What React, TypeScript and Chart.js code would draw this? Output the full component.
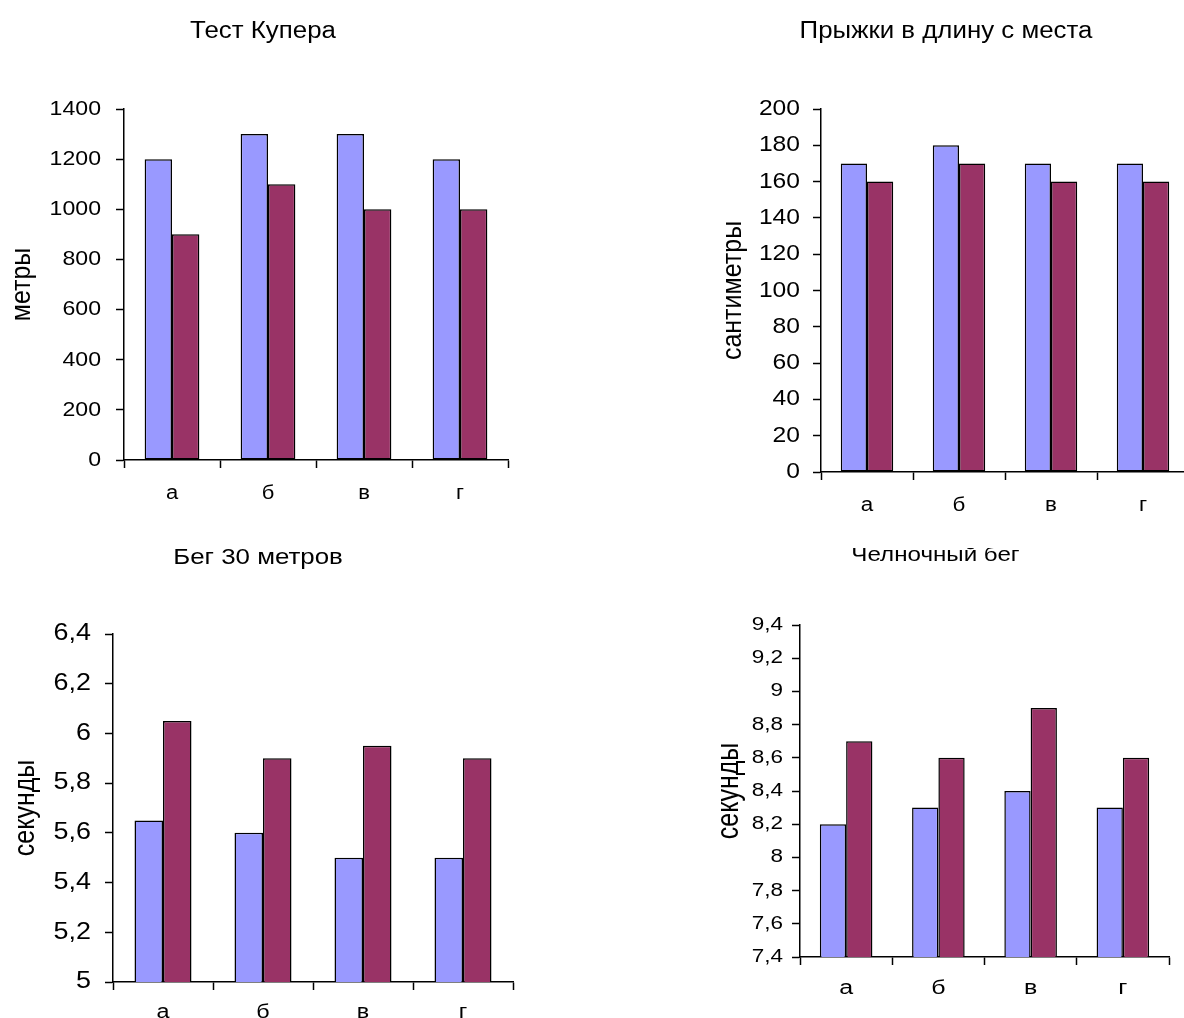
import { useEffect, useRef } from "react";
import { Chart, registerables } from "chart.js";

Chart.register(...registerables);
Chart.defaults.font.family = '"Liberation Sans", Arial, sans-serif';
Chart.defaults.color = "#000";

// Test groups
const groups = ["а", "б", "в", "г"];

// Cooper test, metres
const cooperFirst = [1200, 1300, 1300, 1200];
const cooperSecond = [900, 1100, 1000, 1000];

// Standing long jump, centimetres
const jumpFirst = [170, 180, 170, 170];
const jumpSecond = [160, 170, 160, 160];

// 30 m sprint, seconds
const sprintFirst = [5.65, 5.6, 5.5, 5.5];
const sprintSecond = [6.05, 5.9, 5.95, 5.9];

// Shuttle run, seconds
const shuttleFirst = [8.2, 8.3, 8.4, 8.3];
const shuttleSecond = [8.7, 8.6, 8.9, 8.6];

const headings = ["Тест Купера", "Прыжки в длину с места", "Бег 30 метров", "Челночный бег"];
const unitTitles = ["метры", "сантиметры", "секунды", "секунды"];

// Value axis ranges: [min, max, step]
const cooperRange = [0, 1400, 200];
const jumpRange = [0, 200, 20];
const sprintRange = [5, 6.4, 0.2];
const shuttleRange = [7.4, 9.4, 0.2];

const FIRST_COLOR = "#9999FF";
const SECOND_COLOR = "#993366";
const LINE_W = 1.5;

const PAGE_W = 1184;
const PAGE_H = 1018;

type Panel = {
  heading: string;
  unit: string;
  first: number[];
  second: number[];
  range: number[];
  box: { x: number; y: number; w: number; h: number };
  area: { l: number; t: number; r: number; b: number };
  head: { cx: number; base: number; size: number; stretch: number };
  unitX: number;
  textStretch: number;
  yFont: number;
  yPad: number;
  xFont: number;
  xPad: number;
};

const panels: Panel[] = [
  {
    heading: headings[0],
    unit: unitTitles[0],
    first: cooperFirst,
    second: cooperSecond,
    range: cooperRange,
    box: { x: 0, y: 0, w: 560, h: 530 },
    area: { l: 124, t: 109, r: 508, b: 460 },
    head: { cx: 263, base: 38, size: 23.5, stretch: 1.1 },
    unitX: 22,
    textStretch: 1.1,
    yFont: 21,
    yPad: 15,
    xFont: 20,
    xPad: 13,
  },
  {
    heading: headings[1],
    unit: unitTitles[1],
    first: jumpFirst,
    second: jumpSecond,
    range: jumpRange,
    box: { x: 700, y: 0, w: 500, h: 530 },
    area: { l: 821, t: 109, r: 1189, b: 472 },
    head: { cx: 946, base: 38, size: 23.5, stretch: 1.1 },
    unitX: 733,
    textStretch: 1.12,
    yFont: 22,
    yPad: 13,
    xFont: 20,
    xPad: 13,
  },
  {
    heading: headings[2],
    unit: unitTitles[2],
    first: sprintFirst,
    second: sprintSecond,
    range: sprintRange,
    box: { x: 0, y: 530, w: 540, h: 488 },
    area: { l: 113, t: 634, r: 513, b: 982 },
    head: { cx: 258, base: 564, size: 22.5, stretch: 1.15 },
    unitX: 26,
    textStretch: 1.17,
    yFont: 23,
    yPad: 14,
    xFont: 20,
    xPad: 10,
  },
  {
    heading: headings[3],
    unit: unitTitles[3],
    first: shuttleFirst,
    second: shuttleSecond,
    range: shuttleRange,
    box: { x: 700, y: 548, w: 490, h: 470 },
    area: { l: 800, t: 625, r: 1169, b: 957 },
    head: { cx: 935.5, base: 561, size: 21, stretch: 1.15 },
    unitX: 729,
    textStretch: 1.25,
    yFont: 18,
    yPad: 9,
    xFont: 20,
    xPad: 11,
  },
];

const formatTick = (v: number | string) => {
  const r = Math.round(Number(v) * 10) / 10;
  return String(r).replace(".", ",");
};

// Widen glyphs horizontally (in device space) around each text anchor
function widenText(ctx: CanvasRenderingContext2D, factor: { value: number }) {
  const original = ctx.fillText.bind(ctx);
  (ctx as any).fillText = (text: string, x: number, y: number, maxWidth?: number) => {
    const m = ctx.getTransform();
    const p = m.transformPoint(new DOMPoint(x, y));
    ctx.save();
    ctx.setTransform(
      new DOMMatrix().translate(p.x, p.y).scale(factor.value, 1).translate(-p.x, -p.y).multiply(m)
    );
    if (maxWidth === undefined) original(text, x, y);
    else original(text, x, y, maxWidth);
    ctx.restore();
  };
}

// Draws the panel heading at a fixed spot on the canvas
const headingPlugin = {
  id: "heading",
  afterDraw(chart: any, _args: any, opts: any) {
    const ctx = chart.ctx as CanvasRenderingContext2D;
    const prev = opts.factor.value;
    opts.factor.value = opts.stretch;
    ctx.save();
    ctx.font = `${opts.size}px "Liberation Sans", Arial, sans-serif`;
    ctx.fillStyle = "#000";
    ctx.textAlign = "center";
    ctx.textBaseline = "alphabetic";
    ctx.fillText(opts.text, opts.x, opts.y);
    ctx.restore();
    opts.factor.value = prev;
  },
};

function BarPanel({ p }: { p: Panel }) {
  const ref = useRef<HTMLCanvasElement | null>(null);

  useEffect(() => {
    const canvas = ref.current;
    if (!canvas) return;
    const ctx = canvas.getContext("2d");
    if (!ctx) return;
    const factor = { value: p.textStretch };
    widenText(ctx, factor);

    const [min, max, step] = p.range;
    const yWidth = p.area.l - p.box.x;
    const xHeight = p.box.y + p.box.h - p.area.b;
    const rightPad = p.box.x + p.box.w - p.area.r;
    const unitFont = 25;
    const unitPad = p.unitX - p.box.x - (unitFont * 1.2) / 2;

    const bar = (data: number[], color: string) => ({
      data,
      backgroundColor: color,
      borderColor: "#000",
      borderWidth: LINE_W,
      borderSkipped: false,
      categoryPercentage: 0.57,
      barPercentage: 1,
    });

    const chart = new Chart(canvas, {
      type: "bar",
      data: {
        labels: groups,
        datasets: [bar(p.first, FIRST_COLOR), bar(p.second, SECOND_COLOR)],
      },
      options: {
        responsive: false,
        animation: false,
        devicePixelRatio: 1,
        layout: {
          padding: { top: p.area.t - p.box.y, right: rightPad, left: 0, bottom: 0 },
        },
        plugins: {
          legend: { display: false },
          tooltip: { enabled: false },
          heading: {
            text: p.heading,
            size: p.head.size,
            stretch: p.head.stretch,
            factor,
            x: p.head.cx - p.box.x,
            y: p.head.base - p.box.y,
          },
        } as any,
        scales: {
          x: {
            grid: {
              offset: true,
              drawOnChartArea: false,
              drawTicks: true,
              tickLength: 8,
              tickWidth: LINE_W,
              color: "#000",
            },
            border: { display: true, color: "#000", width: LINE_W },
            ticks: { font: { size: p.xFont }, color: "#000", padding: p.xPad, maxRotation: 0 },
            afterFit: (s: any) => {
              s.height = xHeight;
            },
          },
          y: {
            min,
            max,
            grid: {
              drawOnChartArea: false,
              drawTicks: true,
              tickLength: 8,
              tickWidth: LINE_W,
              color: "#000",
            },
            border: { display: true, color: "#000", width: LINE_W },
            ticks: {
              stepSize: step,
              font: { size: p.yFont },
              color: "#000",
              padding: p.yPad,
              callback: (v: any) => formatTick(v),
            },
            title: {
              display: true,
              text: p.unit,
              color: "#000",
              font: { size: unitFont },
              padding: { top: unitPad, bottom: 0 },
            },
            afterFit: (s: any) => {
              s.width = yWidth;
            },
          },
        },
      },
      plugins: [headingPlugin],
    });
    return () => chart.destroy();
  }, [p]);

  return (
    <canvas
      ref={ref}
      width={p.box.w}
      height={p.box.h}
      style={{ position: "absolute", left: p.box.x, top: p.box.y }}
    />
  );
}

export default function App() {
  return (
    <div
      style={{
        position: "absolute",
        left: 0,
        top: 0,
        width: PAGE_W,
        height: PAGE_H,
        overflow: "hidden",
        background: "#fff",
      }}
    >
      {panels.map((p, i) => (
        <BarPanel key={i} p={p} />
      ))}
    </div>
  );
}
